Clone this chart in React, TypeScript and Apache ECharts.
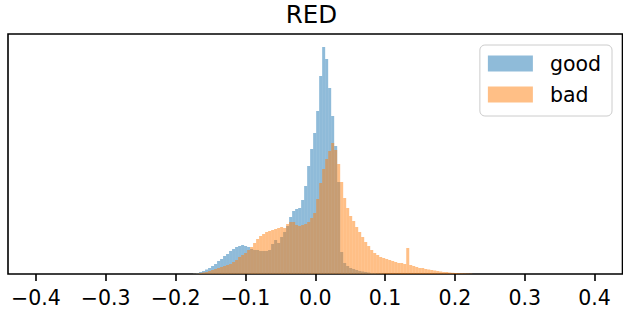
import React, { useEffect, useRef } from "react";
import * as echarts from "echarts";

// Histogram bins (value axis units)
const binStart = -0.175;
const binWidth = 0.0043;

// counts per bin (arbitrary units, same scale for both series)
const goodCounts = [
  0.5, 1, 2, 3, 4.5, 6, 8, 10, 13, 15,
  18, 20, 23, 25, 27, 28, 29, 28, 27, 25,
  24, 24, 23, 23, 23, 24, 30, 34, 31, 37,
  42, 48, 57, 63, 65, 66, 74, 88, 108, 125,
  141, 163, 198, 227, 215, 186, 158, 128, 92, 22,
  11, 8, 6, 5, 4, 3, 2.5, 2, 1.5, 1,
  1, 0.5, 0.5, 0.3, 0, 0, 0, 0, 0, 0,
  0, 0, 0, 0, 0, 0, 0, 0, 0, 0,
  0, 0, 0, 0, 0, 0, 0, 0, 0, 0,
  0, 0, 0,
];

const badCounts = [
  0.3, 0.5, 1, 1.5, 2, 3, 4, 5, 6, 7,
  8, 9, 10, 12, 14, 17, 19, 21, 24, 27,
  31, 35, 38, 40, 42, 43, 44, 45, 46, 47,
  46, 50, 52, 52, 49, 48, 49, 50, 52, 56,
  61, 75, 91, 105, 115, 123, 131, 124, 110, 92,
  76, 66, 58, 53, 47, 42, 37, 32, 28, 24,
  21, 19, 17, 16, 15, 14, 13, 12, 11, 11,
  10, 26, 9, 8, 7, 6, 6, 5, 4.5, 4,
  3.5, 3, 2.5, 2, 2, 1.5, 1.2, 1, 0.8, 0.6,
  0.5, 0.4, 0.3,
];

const seriesNames = ["good", "bad"];
const tickValues = [-0.4, -0.3, -0.2, -0.1, 0.0, 0.1, 0.2, 0.3, 0.4];
const chartTitle = "RED";

const FONT = "DejaVu Sans";

function toBins(counts: number[]) {
  return counts.map((c, k) => [binStart + k * binWidth, binStart + (k + 1) * binWidth, c]);
}

function makeSeries(name: string, counts: number[], color: string) {
  return {
    type: "custom",
    name,
    data: toBins(counts),
    encode: { x: [0, 1], y: 2 },
    itemStyle: { color },
    renderItem: (params: any, api: any) => {
      const x0 = api.value(0);
      const x1 = api.value(1);
      const h = api.value(2);
      const p0 = api.coord([x0, h]);
      const p1 = api.coord([x1, 0]);
      return {
        type: "rect",
        shape: { x: p0[0], y: p0[1], width: p1[0] - p0[0], height: p1[1] - p0[1] },
        style: { fill: color },
      };
    },
  };
}

export default function App() {
  const ref = useRef<HTMLDivElement>(null);
  useEffect(() => {
    if (!ref.current) return;
    const chart = echarts.init(ref.current, null, { renderer: "svg" });
    chart.setOption({
      animation: false,
      title: {
        text: chartTitle,
        left: "center",
        top: 2,
        padding: 0,
        textStyle: { fontSize: 24.5, fontFamily: FONT, fontWeight: "normal", color: "#000" },
      },
      legend: {
        data: seriesNames,
        orient: "vertical",
        right: 11,
        top: 45,
        icon: "rect",
        itemWidth: 45,
        itemHeight: 16,
        itemGap: 10,
        padding: [8, 11, 11, 8],
        backgroundColor: "rgba(255,255,255,0.8)",
        borderColor: "#cccccc",
        borderWidth: 1,
        borderRadius: 5,
        textStyle: { fontSize: 20.5, fontFamily: FONT, color: "#000", padding: [0, 0, 0, 12] },
      },
      grid: {
        left: 8,
        width: 614.5,
        top: 34,
        height: 240,
        show: true,
        borderColor: "#000",
        borderWidth: 1.6,
        backgroundColor: "transparent",
      },
      xAxis: {
        type: "value",
        min: -0.44,
        max: 0.44,
        axisLine: { show: false },
        splitLine: { show: false },
        axisTick: {
          show: true,
          length: 7,
          customValues: tickValues,
          lineStyle: { color: "#000", width: 1.6 },
        },
        axisLabel: {
          customValues: tickValues,
          margin: 13,
          fontSize: 20.5,
          fontFamily: FONT,
          color: "#000",
          formatter: (v: number) => {
            const s = Math.abs(v).toFixed(1);
            return v < -1e-9 ? "\u2212" + s : s;
          },
        },
      },
      yAxis: {
        type: "value",
        min: 0,
        max: 240,
        show: false,
        splitLine: { show: false },
      },
      series: [
        makeSeries(seriesNames[0], goodCounts, "rgba(31,119,180,0.5)"),
        makeSeries(seriesNames[1], badCounts, "rgba(255,127,14,0.5)"),
      ],
    });
    return () => chart.dispose();
  }, []);
  return <div ref={ref} style={{ width: 623, height: 312, position: "absolute", left: 0, top: 0 }} />;
}
